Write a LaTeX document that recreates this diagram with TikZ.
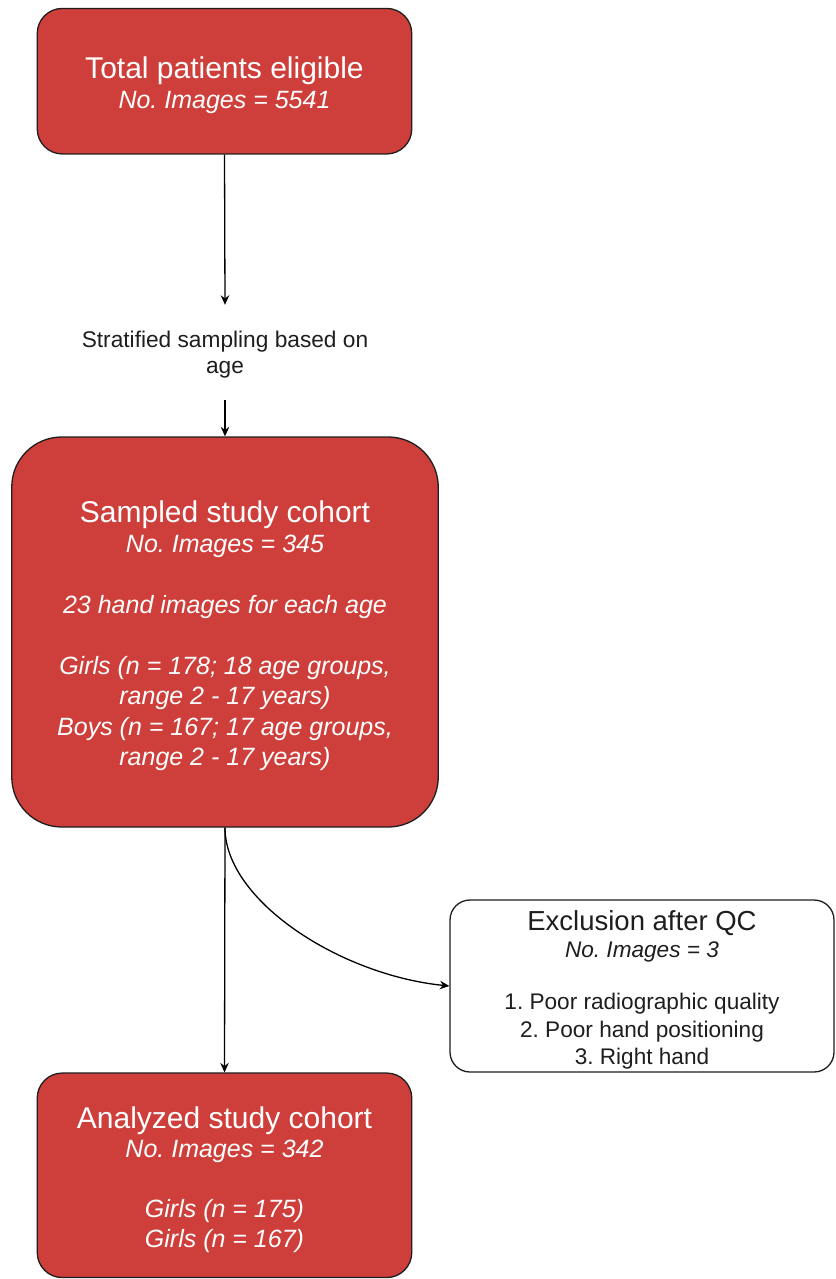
\documentclass[tikz,border=0pt]{standalone}
\usepackage{fontspec}
\setmainfont{Liberation Sans}
\usetikzlibrary{arrows.meta}
\definecolor{boxred}{RGB}{206,63,59}
\definecolor{inkgray}{RGB}{30,30,30}
\frenchspacing
\begin{document}
\begin{tikzpicture}[x=1pt,y=-1pt,
  redbox/.style={draw=inkgray, line width=1.3pt, fill=boxred, text=white, align=center, inner sep=0pt},
  whitebox/.style={draw=inkgray, line width=1.3pt, fill=white, text=inkgray, align=center, inner sep=0pt, rounded corners=20pt},
  plainlabel/.style={text=inkgray, align=center, inner sep=0pt},
  conn/.style={draw=black, line width=1.3pt, -{Stealth[length=9.5pt,width=8.5pt]}}
]
\useasboundingbox (0,0) rectangle (835,1279);

\node[redbox, rounded corners=25pt, minimum width=374.5pt, minimum height=145.5pt,
      font=\fontsize{25}{30}\selectfont] (total) at (224.5,81.2)
  {\rule{0pt}{30pt}{\fontsize{30}{30}\selectfont Total patients eligible}\\
   \itshape No. Images = 5541};

\node[plainlabel, minimum height=95pt, font=\fontsize{22.7}{26}\selectfont] (strat) at (225,352.5)
  {\rule{0pt}{19.8pt}Stratified sampling based on\\ age};

\node[redbox, rounded corners=50pt, minimum width=426.5pt, minimum height=390pt,
      font=\fontsize{25}{30.4}\selectfont] (sampled) at (225,632)
  {\rule{0pt}{28.7pt}{\fontsize{30}{30.4}\selectfont Sampled study cohort}\\
   \itshape No. Images = 345\\[30.5pt]
   \itshape 23 hand images for each age\\[30.5pt]
   \itshape Girls (n = 178; 18 age groups,\\
   \itshape range 2 - 17 years)\\
   \itshape Boys (n = 167; 17 age groups,\\
   \itshape range 2 - 17 years)};

\node[whitebox, minimum width=384pt, minimum height=172pt,
      font=\fontsize{22.6}{27.5}\selectfont] (excl) at (642,986)
  {\rule{0pt}{27.6pt}{\fontsize{27.5}{27.5}\selectfont Exclusion after QC}\\
   \itshape No. Images = 3\\[24.5pt]
   1. Poor radiographic quality\\
   2. Poor hand positioning\\
   3. Right hand};

\node[redbox, rounded corners=25pt, minimum width=374.5pt, minimum height=204.5pt,
      font=\fontsize{25}{29.7}\selectfont] (analyzed) at (224.5,1175.3)
  {\rule{0pt}{30pt}{\fontsize{30}{29.7}\selectfont Analyzed study cohort}\\
   \itshape No. Images = 342\\[30pt]
   \itshape Girls (n = 175)\\
   \itshape Girls (n = 167)};

\draw[conn] (total.south) -- (strat.north);
\draw[conn] (strat.south) -- (sampled.north);
\draw[conn] (sampled.south) -- (analyzed.north);
\draw[conn] (sampled.south) .. controls +(0,73) and (340,975) .. (excl.west);
\end{tikzpicture}
\end{document}
